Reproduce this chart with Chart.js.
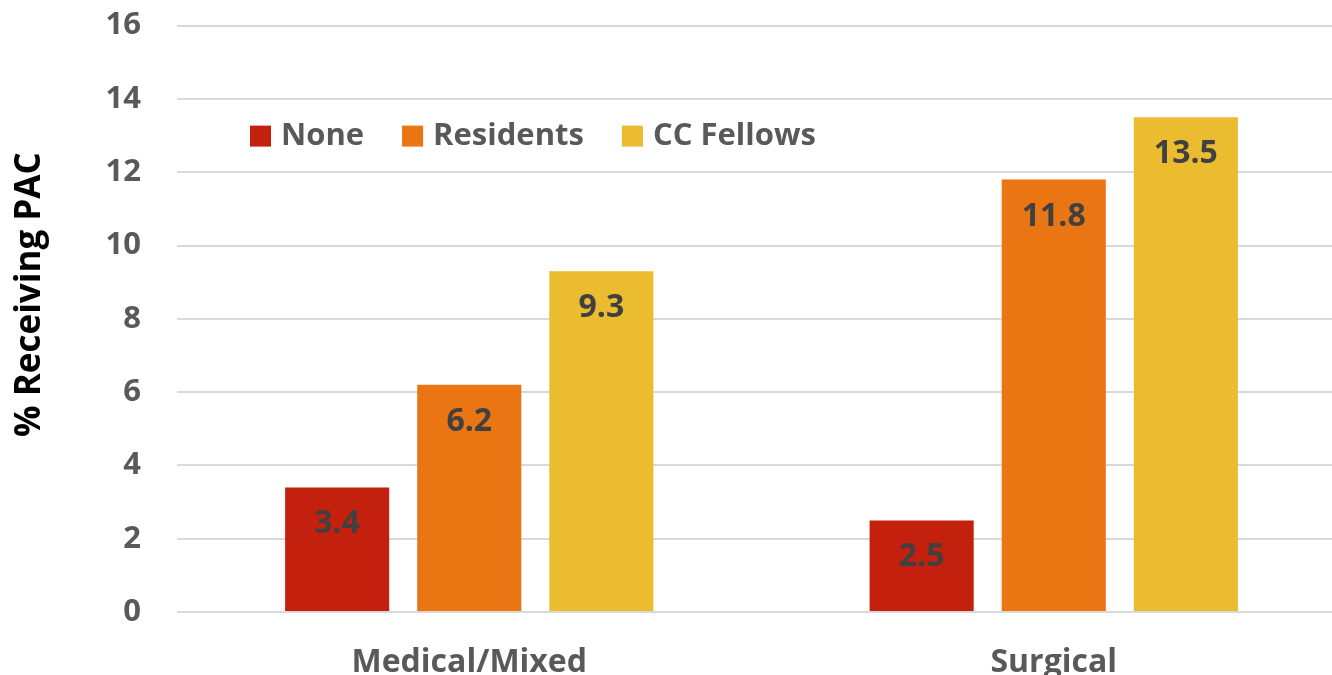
<!DOCTYPE html>
<html lang="en">
<head>
<meta charset="UTF-8">
<title>PAC by ICU type</title>
<script src="https://cdn.jsdelivr.net/npm/chart.js"></script>
<style>
  html, body { margin: 0; padding: 0; background: #fff; overflow: hidden; }
  #wrap { width: 1346px; height: 704px; margin-top: -29px; }
</style>
</head>
<body>
<div id="wrap"><canvas id="pacChart"></canvas></div>
<script>
const categories = ['Medical/Mixed', 'Surgical'];
const seriesNames = ['None', 'Residents', 'CC Fellows'];
const noneValues = [3.4, 2.5];
const residentValues = [6.2, 11.8];
const fellowValues = [9.3, 13.5];
const seriesColors = ['#c4200e', '#e97513', '#ebbb30'];
const yTitle = '% Receiving PAC';
const FONT = '"Open Sans", Lato, sans-serif';

// value labels inside the top of each bar
const barLabels = {
  id: 'barLabels',
  afterDatasetsDraw(chart) {
    const ctx = chart.ctx;
    ctx.save();
    ctx.font = 'bold 32px ' + FONT;
    ctx.fillStyle = '#404040';
    ctx.textAlign = 'center';
    ctx.textBaseline = 'middle';
    chart.data.datasets.forEach((ds, i) => {
      chart.getDatasetMeta(i).data.forEach((bar, j) => {
        ctx.fillText(ds.data[j].toFixed(1), bar.x, bar.y + 37);
      });
    });
    ctx.restore();
  }
};

// legend inside the plot area + y title sitting a bit above centre, like the original
const extras = {
  id: 'extras',
  afterDraw(chart) {
    const ctx = chart.ctx;
    const top = chart.chartArea.top;
    ctx.save();
    ctx.font = 'bold 31px ' + FONT;
    ctx.textBaseline = 'middle';
    let x = 250;
    const y = top + 111;
    chart.data.datasets.forEach(ds => {
      ctx.fillStyle = ds.backgroundColor;
      ctx.fillRect(x, y - 11, 21, 21);
      ctx.fillStyle = '#595959';
      ctx.fillText(ds.label, x + 31, y);
      x += 31 + ctx.measureText(ds.label).width + 38;
    });

    ctx.translate(30, top + 269);
    ctx.rotate(-Math.PI / 2);
    ctx.font = 'bold 35px ' + FONT;
    ctx.fillStyle = '#000';
    ctx.textAlign = 'center';
    ctx.fillText(yTitle, 0, 0);
    ctx.restore();
  }
};

new Chart(document.getElementById('pacChart'), {
  type: 'bar',
  data: {
    labels: categories,
    datasets: [
      { label: seriesNames[0], data: noneValues, backgroundColor: seriesColors[0] },
      { label: seriesNames[1], data: residentValues, backgroundColor: seriesColors[1] },
      { label: seriesNames[2], data: fellowValues, backgroundColor: seriesColors[2] }
    ]
  },
  options: {
    responsive: true,
    maintainAspectRatio: false,
    animation: false,
    layout: { padding: 0 },
    datasets: { bar: { categoryPercentage: 0.678, barPercentage: 0.788 } },
    plugins: { legend: { display: false }, tooltip: { enabled: false } },
    scales: {
      x: {
        grid: { display: false },
        border: { display: false },
        ticks: { color: '#595959', font: { family: FONT, size: 32, weight: 'bold' }, padding: 24 },
        afterFit(axis) { axis.height = 63; }
      },
      y: {
        min: 0, max: 16,
        ticks: { stepSize: 2, color: '#595959', font: { family: FONT, size: 31, weight: 'bold' }, padding: 36 },
        grid: { color: '#d9d9d9', lineWidth: 2, drawTicks: false },
        border: { display: false },
        afterFit(axis) { axis.width = 177; }
      }
    }
  },
  plugins: [barLabels, extras]
});
</script>
</body>
</html>
